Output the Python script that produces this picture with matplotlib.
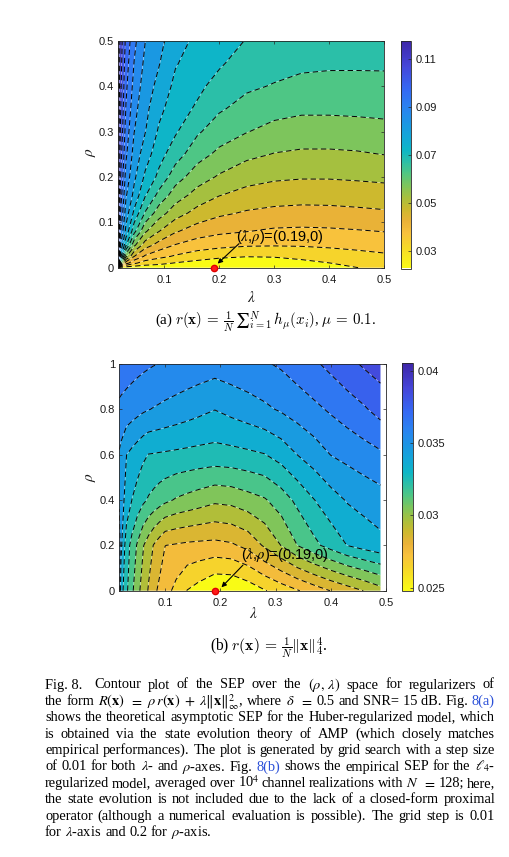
import numpy as np
import matplotlib
matplotlib.use("Agg")
import matplotlib.pyplot as plt
from matplotlib.colors import LinearSegmentedColormap, Normalize
from matplotlib.cm import ScalarMappable

W, H = 510, 857  # output size in pixels

# --- (a) Huber regularizer: SEP from state evolution ---
lam_a = [0.015, 0.02, 0.03, 0.045, 0.065, 0.09, 0.12, 0.16, 0.2, 0.25, 0.3, 0.35, 0.4, 0.45, 0.5]
rho_a = [0, 0.01, 0.025, 0.05, 0.08, 0.12, 0.16, 0.2, 0.25, 0.3, 0.35, 0.4, 0.45, 0.5]
sep_a = [
    [0.0270, 0.0270, 0.0270, 0.0270, 0.0270, 0.0272, 0.0266, 0.0258, 0.0248, 0.0245, 0.0252, 0.0268, 0.0284, 0.0299, 0.0312],
    [0.1170, 0.0601, 0.0421, 0.0359, 0.0325, 0.0312, 0.0297, 0.0284, 0.0273, 0.0268, 0.0273, 0.0286, 0.0299, 0.0313, 0.0324],
    [0.1170, 0.0775, 0.0564, 0.0451, 0.0392, 0.0365, 0.0344, 0.0324, 0.0310, 0.0302, 0.0304, 0.0313, 0.0323, 0.0333, 0.0342],
    [0.1170, 0.0851, 0.0707, 0.0562, 0.0475, 0.0431, 0.0398, 0.0376, 0.0365, 0.0356, 0.0354, 0.0355, 0.0359, 0.0364, 0.0369],
    [0.1170, 0.0905, 0.0785, 0.0665, 0.0557, 0.0501, 0.0455, 0.0425, 0.0410, 0.0401, 0.0392, 0.0390, 0.0392, 0.0396, 0.0401],
    [0.1170, 0.0951, 0.0826, 0.0738, 0.0645, 0.0573, 0.0522, 0.0482, 0.0459, 0.0444, 0.0436, 0.0433, 0.0434, 0.0438, 0.0443],
    [0.1170, 0.0979, 0.0856, 0.0785, 0.0705, 0.0635, 0.0576, 0.0531, 0.0502, 0.0483, 0.0474, 0.0470, 0.0471, 0.0474, 0.0478],
    [0.1170, 0.1004, 0.0882, 0.0810, 0.0741, 0.0688, 0.0622, 0.0574, 0.0544, 0.0519, 0.0508, 0.0504, 0.0504, 0.0507, 0.0511],
    [0.1170, 0.1025, 0.0909, 0.0830, 0.0775, 0.0719, 0.0673, 0.0619, 0.0589, 0.0562, 0.0548, 0.0542, 0.0542, 0.0545, 0.0551],
    [0.1170, 0.1046, 0.0928, 0.0851, 0.0802, 0.0743, 0.0706, 0.0657, 0.0624, 0.0602, 0.0584, 0.0577, 0.0577, 0.0579, 0.0583],
    [0.1170, 0.1056, 0.0947, 0.0866, 0.0814, 0.0764, 0.0722, 0.0693, 0.0656, 0.0632, 0.0617, 0.0609, 0.0609, 0.0611, 0.0614],
    [0.1170, 0.1064, 0.0961, 0.0882, 0.0826, 0.0785, 0.0738, 0.0711, 0.0683, 0.0658, 0.0647, 0.0638, 0.0637, 0.0639, 0.0642],
    [0.1170, 0.1072, 0.0974, 0.0898, 0.0838, 0.0803, 0.0754, 0.0725, 0.0706, 0.0678, 0.0667, 0.0659, 0.0656, 0.0655, 0.0654],
    [0.1177, 0.1080, 0.0988, 0.0913, 0.0851, 0.0815, 0.0771, 0.0738, 0.0720, 0.0698, 0.0685, 0.0675, 0.0668, 0.0663, 0.0660],
]
levels_a = [0.03, 0.035, 0.04, 0.045, 0.05, 0.055, 0.06, 0.065, 0.07, 0.075,
            0.08, 0.085, 0.09, 0.095, 0.1, 0.105, 0.11, 0.115]
clim_a = (0.0228, 0.1177)
cticks_a = [0.03, 0.05, 0.07, 0.09, 0.11]
clabels_a = ["0.03", "0.05", "0.07", "0.09", "0.11"]
yticks_a = [0, 0.1, 0.2, 0.3, 0.4, 0.5]
ylabels_a = ["0", "0.1", "0.2", "0.3", "0.4", "0.5"]

# --- (b) l4 regularizer: empirical SEP, rho grid step 0.2 ---
lam_b = [0.017, 0.02, 0.03, 0.04, 0.05, 0.06, 0.07, 0.08, 0.09, 0.1, 0.12, 0.14,
         0.16, 0.19, 0.22, 0.25, 0.28, 0.31, 0.34, 0.37, 0.4, 0.43, 0.46, 0.49]
rho_b = [0, 0.2, 0.4, 0.6, 0.8, 1.0]
sep_b = [
    [0.0355, 0.0335, 0.0322, 0.0312, 0.0303, 0.0296, 0.0289, 0.0282, 0.0278, 0.0274, 0.0267, 0.02597,
     0.0256, 0.0250, 0.0250, 0.0254, 0.02593, 0.02643, 0.02693, 0.02748, 0.02803, 0.02852, 0.02902, 0.0296],
    [0.0358, 0.03425, 0.03245, 0.03167, 0.03085, 0.03008, 0.02947, 0.02891, 0.02845, 0.02801, 0.0279, 0.0278,
     0.02775, 0.0277, 0.02785, 0.02829, 0.02914, 0.03002, 0.03102, 0.03175, 0.0324, 0.03302, 0.0334, 0.0337],
    [0.0348, 0.03446, 0.03363, 0.03298, 0.0326, 0.0322, 0.03189, 0.03167, 0.03144, 0.03122, 0.0309, 0.0307,
     0.0305, 0.0302, 0.0303, 0.0306, 0.0309, 0.0315, 0.03225, 0.03298, 0.0336, 0.03408, 0.03434, 0.03459],
    [0.0349, 0.0347, 0.03401, 0.03373, 0.03346, 0.03319, 0.03297, 0.03294, 0.0329, 0.03287, 0.0328, 0.03274,
     0.03268, 0.03262, 0.03268, 0.0328, 0.03296, 0.0334, 0.03402, 0.0345, 0.03502, 0.03528, 0.03556, 0.03584],
    [0.0358, 0.03575, 0.0356, 0.03545, 0.0353, 0.03515, 0.03503, 0.03494, 0.03486, 0.03477, 0.03461, 0.03444,
     0.03427, 0.03402, 0.03429, 0.03455, 0.03482, 0.03511, 0.03544, 0.03578, 0.03613, 0.0365, 0.03688, 0.03736],
    [0.0366, 0.03657, 0.03648, 0.03639, 0.0363, 0.03621, 0.03612, 0.03604, 0.03597, 0.03592, 0.03582, 0.03571,
     0.0356, 0.03545, 0.0356, 0.03575, 0.0359, 0.03613, 0.03649, 0.03685, 0.03726, 0.03771, 0.03813, 0.03847],
]
levels_b = [0.026, 0.027, 0.028, 0.029, 0.03, 0.031, 0.032, 0.033, 0.034,
            0.035, 0.036, 0.037, 0.038, 0.039, 0.04]
clim_b = (0.0248, 0.0405)
cticks_b = [0.025, 0.03, 0.035, 0.04]
clabels_b = ["0.025", "0.03", "0.035", "0.04"]
yticks_b = [0, 0.2, 0.4, 0.6, 0.8, 1]
ylabels_b = ["0", "0.2", "0.4", "0.6", "0.8", "1"]

xticks = [0.1, 0.2, 0.3, 0.4, 0.5]
xlabels = ["0.1", "0.2", "0.3", "0.4", "0.5"]
best = (0.19, 0)
best_label = r"($\lambda$,$\rho$)=(0.19,0)"

# parula-like map matched to the picture, flipped so small SEP is yellow
parula = [(0.0, "#3E26A8"), (0.11, "#4546D9"), (0.21, "#3568F3"), (0.29, "#2A82F1"),
          (0.37, "#1A98E2"), (0.43, "#12A9D6"), (0.48, "#0DB6C6"), (0.53, "#2BBFA8"),
          (0.58, "#4EC685"), (0.635, "#7DC55C"), (0.69, "#A8C03D"), (0.74, "#CCB92E"),
          (0.795, "#EBB238"), (0.845, "#F8C13D"), (0.9, "#F6D52A"), (1.0, "#F9FB15")]
cmap = LinearSegmentedColormap.from_list("parula_r", [(1 - t, c) for t, c in parula[::-1]])

plt.rcParams["mathtext.fontset"] = "stix"
plt.rcParams["lines.dashed_pattern"] = [5.5, 3.5]
frame = "#262626"


def box(l, t, r, b):
    return [l / W, 1 - b / H, (r - l) / W, (b - t) / H]


def panel(ax_box, cb_box, lam, rho, sep, levels, clim, yt, yl, ct, cl, xmax, txt_at, arr_from, arr_to):
    ax = fig.add_axes(box(*ax_box))
    norm = Normalize(*clim)
    bounds = [0] + levels + [1]
    mids = [clim[0]] + [(a + b) / 2 for a, b in zip(levels[:-1], levels[1:])] + [clim[1]]
    colors = [cmap(norm(v)) for v in mids]
    L, R = np.meshgrid(lam, rho)
    Z = np.array(sep)
    ax.contourf(L, R, Z, levels=bounds, colors=colors, antialiased=True)
    ax.contour(L, R, Z, levels=levels, colors="white", linewidths=0.5, alpha=0.35)
    ax.contour(L, R, Z, levels=levels, colors="black", linewidths=0.7, linestyles="dashed")
    ax.set_xlim(lam[0], xmax)
    ax.set_ylim(rho[0], rho[-1])
    ax.set_xticks(xticks)
    ax.set_xticklabels(xlabels)
    ax.set_yticks(yt)
    ax.set_yticklabels(yl)
    ax.tick_params(direction="in", top=True, right=True, length=2.5, width=0.5,
                   labelsize=8, colors=frame, labelcolor="#1a1a1a")
    ax.tick_params(axis="x", pad=5)
    ax.tick_params(axis="y", pad=3)
    for lab in ax.get_xticklabels() + ax.get_yticklabels():
        lab.set_family("Liberation Sans")
    for s in ax.spines.values():
        s.set_linewidth(0.6)
        s.set_color(frame)
    ax.plot(*best, "o", color="#ff1a1a", ms=4.5, mec="#e00000", clip_on=False, zorder=5)
    ax.text(txt_at[0], txt_at[1], best_label, fontsize=10.5, family="Liberation Sans",
            ha="left", va="center", zorder=6)
    ax.annotate("", xy=arr_to, xytext=arr_from, zorder=6,
                arrowprops=dict(arrowstyle="-|>", color="black", lw=0.8, mutation_scale=7,
                                shrinkA=0, shrinkB=0))

    cax = fig.add_axes(box(*cb_box))
    cb = fig.colorbar(ScalarMappable(norm=norm, cmap=cmap), cax=cax, ticks=ct)
    cb.ax.set_yticklabels(cl)
    cb.outline.set_linewidth(0.6)
    cb.outline.set_edgecolor(frame)
    cb.ax.tick_params(direction="in", length=2.5, width=0.5, labelsize=8, pad=3, colors=frame,
                      labelcolor="#1a1a1a")
    for lab in cb.ax.get_yticklabels():
        lab.set_family("Liberation Sans")
    return ax


fig = plt.figure(figsize=(W / 100, H / 100), dpi=100)

panel((117.7, 40.7, 384, 267.7), (401, 40.7, 411, 268.5), lam_a, rho_a, sep_a, levels_a, clim_a,
      yticks_a, ylabels_a, cticks_a, clabels_a, 0.5,
      (0.231, 0.068), (0.236, 0.053), (0.197, 0.009))
panel((119.3, 364, 386, 590.7), (402, 363.3, 413, 590.7), lam_b, rho_b, sep_b, levels_b, clim_b,
      yticks_b, ylabels_b, cticks_b, clabels_b, 0.5,
      (0.238, 0.157), (0.241, 0.113), (0.202, 0.015))

# axis labels
for x, y, s, rot in [(251, 297, r"$\lambda$", 0), (90, 152, r"$\rho$", 90),
                     (253, 614, r"$\lambda$", 0), (90, 477, r"$\rho$", 90)]:
    fig.text(x / W, 1 - y / H, s, fontsize=11, ha="center", va="center", rotation=rot, color="#1a1a1a")

# sub-captions
serif = "Liberation Serif"
fig.text(266 / W, 1 - 325 / H,
         r"(a) $r(\mathbf{x})\,=\,\frac{1}{N}\,∑_{i=1}^{N}\,h_{\mu}(x_i)$, $\mu\,=\,0.1$.",
         fontsize=10.8, family=serif, math_fontfamily="cm", ha="center", va="baseline")
fig.text(269 / W, 1 - 651 / H,
         r"(b) $r(\mathbf{x})\,=\,\frac{1}{N}\|\mathbf{x}\|_4^4$.",
         fontsize=11.2, family=serif, math_fontfamily="cm", ha="center", va="baseline")

# figure caption, justified between the column margins
para = [
    r"Fig.~8. Contour plot of the SEP over the $(\rho,\,\lambda)$ space for regularizers of",
    r"the form $R(\mathbf{x})$ $=$ $\rho\,r(\mathbf{x})$ $+$ $\lambda\|\mathbf{x}\|_{\infty}^{2}$, where $\delta$ $=$ 0.5 and SNR= 15~dB. Fig. 8(a)",
    r"shows the theoretical asymptotic SEP for the Huber-regularized model, which",
    r"is obtained via the state evolution theory of AMP (which closely matches",
    r"empirical performances). The plot is generated by grid search with a step size",
    r"of 0.01 for both $\lambda$- and $\rho$-axes. Fig. 8(b) shows the empirical SEP for the $\ell_4$-",
    r"regularized model, averaged over 10$^4$ channel realizations with $N$ $=$ 128; here,",
    r"the state evolution is not included due to the lack of a closed-form proximal",
    r"operator (although a numerical evaluation is possible). The grid step is 0.01",
    r"for $\lambda$-axis and 0.2 for $\rho$-axis.",
]
plain = [2, 3, 4, 7, 8]  # lines without formulas, used to size the font
left, right, base0, step = 45, 495, 688.5, 16.4
rend = fig.canvas.get_renderer()


def measure(size):
    out = []
    for line in para:
        ws = [w.replace("~", " ") for w in line.split(" ")]
        ts = [fig.text(0, 0, w, fontsize=size, family=serif) for w in ws]
        out.append((ws, [t.get_window_extent(rend).width for t in ts]))
        for t in ts:
            t.remove()
    return out


# pick the font size at which the tightest plain line has ordinary word spacing
probe = 10.0
m = measure(probe)
natural = max(sum(m[i][1]) + 0.27 * probe * 100 / 72 * (len(m[i][1]) - 1) for i in plain)
size = probe * (right - left) / natural

for k, (ws, wd) in enumerate(measure(size)):
    y = 1 - (base0 + k * step) / H
    extra = [5 if (k == 0 and i == 0) else 0 for i in range(len(ws))]
    if k == len(para) - 1:
        gap = 0.25 * size * 100 / 72
    else:
        gap = max((right - left - sum(wd) - sum(extra)) / (len(ws) - 1), 1.5)
    x = left
    for w, wdt, e in zip(ws, wd, extra):
        col = "#2b50d8" if w in ("8(a)", "8(b)") else "black"
        fig.text(x / W, y, w, fontsize=size, family=serif, color=col, va="baseline")
        x += wdt + gap + e

fig.savefig("out.png", dpi=100)
